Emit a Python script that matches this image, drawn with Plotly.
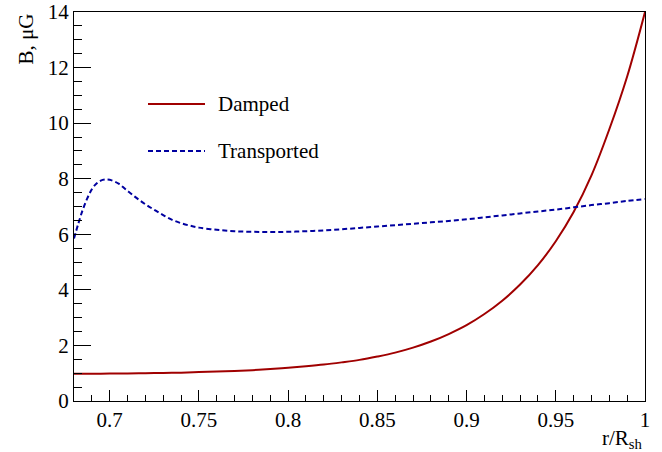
import plotly.graph_objects as go

# Radial coordinate r/R_sh
r_damped = [0.68, 0.69, 0.70, 0.71, 0.72, 0.73, 0.74, 0.75, 0.76, 0.77, 0.78,
            0.79, 0.80, 0.81, 0.82, 0.83, 0.84, 0.85, 0.86, 0.87, 0.88, 0.89,
            0.90, 0.91, 0.92, 0.93, 0.94, 0.95, 0.96, 0.97, 0.98, 0.99, 1.00]
b_damped = [0.98, 0.98, 0.99, 0.99, 1.00, 1.01, 1.02, 1.04, 1.06, 1.08, 1.11,
            1.15, 1.20, 1.25, 1.31, 1.39, 1.48, 1.60, 1.74, 1.92, 2.14, 2.41,
            2.73, 3.13, 3.61, 4.19, 4.89, 5.75, 6.80, 8.12, 9.78, 11.68, 14.0]

r_transported = [0.680, 0.6825, 0.685, 0.6875, 0.690, 0.6925, 0.695, 0.6975,
                 0.700, 0.705, 0.71, 0.715, 0.72, 0.725, 0.73, 0.735, 0.74,
                 0.745, 0.75, 0.76, 0.77, 0.78, 0.79, 0.80, 0.81, 0.82, 0.83,
                 0.84, 0.85, 0.86, 0.87, 0.88, 0.89, 0.90, 0.91, 0.92, 0.93,
                 0.94, 0.95, 0.96, 0.97, 0.98, 0.99, 1.00]
b_transported = [5.85, 6.40, 6.90, 7.30, 7.62, 7.82, 7.93, 7.97,
                 7.96, 7.82, 7.56, 7.31, 7.08, 6.88, 6.69, 6.52, 6.40,
                 6.31, 6.24, 6.16, 6.11, 6.09, 6.08, 6.09, 6.11, 6.14, 6.18,
                 6.23, 6.28, 6.33, 6.38, 6.43, 6.48, 6.54, 6.61, 6.68, 6.75,
                 6.82, 6.89, 6.97, 7.05, 7.12, 7.20, 7.27]

names = ["Damped", "Transported"]
colors = ["#a00000", "#0000a0"]

FONT = "Liberation Serif"

fig = go.Figure()
fig.add_trace(go.Scatter(x=r_damped, y=b_damped, mode="lines", name=names[0],
                         line=dict(color=colors[0], width=2, shape="spline",
                                   smoothing=1.0),
                         showlegend=False))
fig.add_trace(go.Scatter(x=r_transported, y=b_transported, mode="lines",
                         name=names[1],
                         line=dict(color=colors[1], width=2, dash="5px,3px",
                                   shape="spline", smoothing=1.0),
                         showlegend=False))

# Legend drawn by hand (ROOT-style long line samples)
L, R, T, B = 74, 17, 12, 51
W, H = 662 - L - R, 452 - T - B


def px_x(p):
    return (p - L) / W


def px_y(p):
    return (452 - B - p) / H


legend_rows = [(104, "solid"), (151, "5px,3px")]
for (ypix, dash), name, col in zip(legend_rows, names, colors):
    fig.add_shape(type="line", xref="paper", yref="paper",
                  x0=px_x(148), x1=px_x(205), y0=px_y(ypix), y1=px_y(ypix),
                  line=dict(color=col, width=2, dash=dash))
    fig.add_annotation(xref="paper", yref="paper", x=px_x(216), y=px_y(ypix),
                       text=name, showarrow=False, xanchor="left",
                       yanchor="middle",
                       font=dict(family=FONT, size=21, color="black"))

# Axis titles
fig.add_annotation(xref="paper", yref="paper", x=px_x(25), y=1.0,
                   text="B, μG", textangle=-90, showarrow=False,
                   xanchor="center", yanchor="top",
                   font=dict(family=FONT, size=21, color="black"))
fig.add_annotation(xref="paper", yref="paper", x=1.0, y=px_y(454),
                   text="r/R<sub>sh</sub>", showarrow=False,
                   xanchor="right", yanchor="bottom",
                   font=dict(family=FONT, size=21, color="black"))

fig.update_layout(
    width=662, height=452,
    margin=dict(l=L, r=R, t=T, b=B, autoexpand=False),
    paper_bgcolor="white", plot_bgcolor="white",
    font=dict(family=FONT, size=21, color="black"),
    xaxis=dict(range=[0.68, 1.0], tick0=0.7, dtick=0.05, automargin=False,
               showgrid=False, zeroline=False,
               showline=True, linecolor="black", linewidth=1, mirror=True,
               ticks="inside", ticklen=11, tickwidth=1, tickcolor="black",
               minor=dict(ticks="inside", ticklen=6, dtick=0.01, tick0=0.7,
                          tickcolor="black", tickwidth=1, showgrid=False),
               tickfont=dict(family=FONT, size=21)),
    yaxis=dict(range=[0, 14], tick0=0, dtick=2, automargin=False,
               showgrid=False, zeroline=False,
               showline=True, linecolor="black", linewidth=1, mirror=True,
               ticks="inside", ticklen=17, tickwidth=1, tickcolor="black",
               minor=dict(ticks="inside", ticklen=8, dtick=0.5, tick0=0,
                          tickcolor="black", tickwidth=1, showgrid=False),
               tickfont=dict(family=FONT, size=21)),
)

fig.write_html("out.html")
